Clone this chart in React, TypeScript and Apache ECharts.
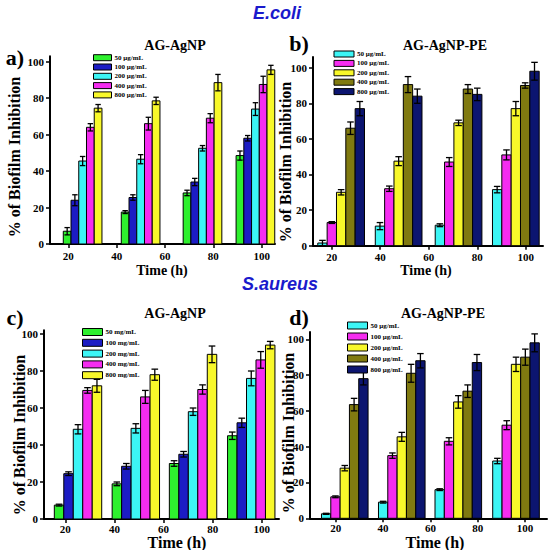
import React, { useEffect, useRef } from "react";
import * as echarts from "echarts";

// ---------- data ----------
const timeTicks = [20, 40, 60, 80, 100];
const pctTicks = [0, 20, 40, 60, 80, 100];

const concUg = ["50 μg/mL", "100 μg/mL", "200 μg/mL", "400 μg/mL", "800 μg/mL"];
const concMg = ["50 mg/mL", "100 mg/mL", "200 mg/mL", "400 mg/mL", "800 mg/mL"];

// x position (h) of each time group, per panel
const groupXA = [25.9, 49.9, 75.5, 97.4];
const groupXB = [23.9, 47.6, 72.3, 95.9];
const groupXC = [25.15, 48.7, 72, 95.7];
const groupXD = [23.8, 47.9, 71.8, 96.2];

// a) E.coli AG-AgNP  (rows: concentration, cols: time group)
const ecoliAgNP = [
  [7, 17.5, 28, 48.5],
  [24, 25.5, 34, 58],
  [45.5, 46.5, 52.5, 74],
  [64, 66, 69, 87.5],
  [74.5, 78.5, 88.5, 95.5],
];
const ecoliAgNPErr = [
  [2, 0.8, 1.5, 2.5],
  [3, 1.5, 2, 1.5],
  [2.5, 2.5, 1.5, 3.5],
  [2, 3.5, 2.5, 4.5],
  [2, 2, 4.5, 2.5],
];

// b) E.coli AG-AgNP-PE
const ecoliPE = [
  [1.5, 11, 11.5, 31.5],
  [13, 32, 47, 51],
  [30, 47.5, 69, 77],
  [66, 90.5, 88, 90],
  [77, 84, 85, 98],
];
const ecoliPEErr = [
  [1.5, 2, 0.8, 1.8],
  [0.5, 1.5, 2.5, 2.8],
  [1.5, 2.5, 1.5, 4],
  [3.5, 4.5, 2.5, 1.5],
  [4, 4, 3.5, 5],
];

// c) S.aureus AG-AgNP
const saureusAgNP = [
  [7.5, 19, 30, 45],
  [24.5, 28.5, 35, 52],
  [48.5, 49, 58, 76],
  [69.5, 66, 70, 86],
  [72, 78, 89, 94],
];
const saureusAgNPErr = [
  [0.5, 1, 1.5, 2],
  [1, 1.5, 1.5, 2.5],
  [2.5, 2.5, 2, 4],
  [1.5, 3.5, 2.5, 4.5],
  [3.5, 3, 4.5, 2],
];

// d) S.aureus AG-AgNP-PE
const saureusPE = [
  [2.5, 9, 16, 32],
  [12, 35, 43, 52],
  [28, 45.5, 65, 86],
  [63.5, 81, 71, 90],
  [78, 88, 87, 98],
];
const saureusPEErr = [
  [0.3, 0.5, 0.5, 1.5],
  [0.5, 1.5, 2, 2.5],
  [1.5, 2.5, 3.5, 4],
  [3.5, 5, 3.5, 4.5],
  [3.5, 4, 4.5, 5],
];

// ---------- styles ----------
const colorsAgNP = ["#2ef02e", "#1c1cc4", "#3cf5f5", "#f52cf0", "#f8f82a"];
const colorsPE = ["#3cf5f5", "#f52cf0", "#f8f82a", "#807a10", "#0c1570"];

const SERIF = '"Liberation Serif", "Times New Roman", serif';

type Panel = {
  key: string;
  letter: string;
  title: string;
  names: string[];
  colors: string[];
  groupX: number[];
  values: number[][];
  errs: number[][];
  barW: number;
  grid: { left: number; top: number; width: number; height: number };
  xRange: [number, number];
  yMax: number;
  legend: { left: number; top: number; w: number; h: number; gap: number };
  letterPos: [number, number];
  titlePos: [number, number];
  yNamePos: [number, number];
  xNamePos: [number, number];
  xNameSize: number;
  xLabelMargin: number;
};

const panels: Panel[] = [
  {
    key: "a",
    letter: "a)",
    title: "AG-AgNP",
    names: concUg,
    colors: colorsAgNP,
    groupX: groupXA,
    values: ecoliAgNP,
    errs: ecoliAgNPErr,
    barW: 3.2,
    grid: { left: 50, top: 56.2, width: 225, height: 187.8 },
    xRange: [12.4, 105.5],
    yMax: 103,
    legend: { left: 93, top: 54.2, w: 18, h: 6, gap: 2.3 },
    letterPos: [15, 57],
    titlePos: [175, 45],
    yNamePos: [14, 157],
    xNamePos: [162, 270],
    xNameSize: 14,
    xLabelMargin: 6,
  },
  {
    key: "b",
    letter: "b)",
    title: "AG-AgNP-PE",
    names: concUg,
    colors: colorsPE,
    groupX: groupXB,
    values: ecoliPE,
    errs: ecoliPEErr,
    barW: 3.85,
    grid: { left: 313, top: 57, width: 230, height: 188.7 },
    xRange: [12.3, 107.1],
    yMax: 106,
    legend: { left: 333.5, top: 50.5, w: 20, h: 6, gap: 2.4 },
    letterPos: [299, 43],
    titlePos: [445, 45],
    yNamePos: [285.5, 162],
    xNamePos: [426, 270.5],
    xNameSize: 14,
    xLabelMargin: 6,
  },
  {
    key: "c",
    letter: "c)",
    title: "AG-AgNP",
    names: concMg,
    colors: colorsAgNP,
    groupX: groupXC,
    values: saureusAgNP,
    errs: saureusAgNPErr,
    barW: 3.86,
    grid: { left: 44, top: 330.3, width: 235, height: 188.7 },
    xRange: [11.3, 107],
    yMax: 102,
    legend: { left: 82, top: 328, w: 20, h: 7, gap: 2.8 },
    letterPos: [15, 317],
    titlePos: [175, 313],
    yNamePos: [19.5, 435],
    xNamePos: [177, 542.5],
    xNameSize: 16,
    xLabelMargin: 4,
  },
  {
    key: "d",
    letter: "d)",
    title: "AG-AgNP-PE",
    names: concUg,
    colors: colorsPE,
    groupX: groupXD,
    values: saureusPE,
    errs: saureusPEErr,
    barW: 3.94,
    grid: { left: 310, top: 332.1, width: 237, height: 186.2 },
    xRange: [9.1, 109.3],
    yMax: 104,
    legend: { left: 347, top: 321.5, w: 20, h: 7, gap: 3 },
    letterPos: [299, 317],
    titlePos: [443, 313],
    yNamePos: [288.5, 433],
    xNamePos: [435, 542.5],
    xNameSize: 16,
    xLabelMargin: 4,
  },
];

function buildOption() {
  const grid: any[] = [];
  const xAxis: any[] = [];
  const yAxis: any[] = [];
  const series: any[] = [];
  const legend: any[] = [];
  const graphic: any[] = [];

  const axisLabelBase = {
    fontFamily: SERIF,
    fontWeight: "bold",
    fontSize: 11,
    color: "#000",
  };

  panels.forEach((p, pi) => {
    grid.push({ ...p.grid, containLabel: false });
    xAxis.push({
      type: "value",
      gridIndex: pi,
      min: p.xRange[0],
      max: p.xRange[1],
      axisLine: { show: true, onZero: false, lineStyle: { color: "#000", width: 2 } },
      axisTick: { show: true, length: 4, lineStyle: { color: "#000", width: 1.5 }, customValues: timeTicks },
      axisLabel: { ...axisLabelBase, margin: p.xLabelMargin, customValues: timeTicks },
      splitLine: { show: false },
    });
    yAxis.push({
      type: "value",
      gridIndex: pi,
      min: 0,
      max: p.yMax,
      axisLine: { show: true, onZero: false, lineStyle: { color: "#000", width: 2 } },
      axisTick: { show: true, length: 4, lineStyle: { color: "#000", width: 1.5 }, customValues: pctTicks },
      axisLabel: { ...axisLabelBase, margin: 6, customValues: pctTicks },
      splitLine: { show: false },
    });

    const n = p.names.length;
    const legendNames: string[] = [];
    p.names.forEach((nm, si) => {
      const sName = p.key + ":" + nm;
      legendNames.push(sName);
      const color = p.colors[si];
      const barW = p.barW;
      const data = p.groupX.map((gx, gi) => [gx, p.values[si][gi], p.errs[si][gi]]);
      series.push({
        type: "custom",
        name: sName,
        xAxisIndex: pi,
        yAxisIndex: pi,
        itemStyle: { color },
        encode: { x: 0, y: 1 },
        data,
        clip: false,
        renderItem: (params: any, api: any) => {
          const gx = api.value(0);
          const v = api.value(1);
          const e = api.value(2);
          const cx = gx + (si - (n - 1) / 2) * barW;
          const p0 = api.coord([cx - barW / 2, 0]);
          const p1 = api.coord([cx + barW / 2, v]);
          const top = api.coord([cx, v + e]);
          const bot = api.coord([cx, v - e]);
          const w = p1[0] - p0[0];
          const capHalf = w * 0.35;
          const mid = (p0[0] + p1[0]) / 2;
          return {
            type: "group",
            children: [
              {
                type: "rect",
                shape: { x: p0[0], y: p1[1], width: w, height: p0[1] - p1[1] },
                style: { fill: color, stroke: "#000", lineWidth: 1 },
              },
              {
                type: "line",
                shape: { x1: mid, y1: top[1], x2: mid, y2: bot[1] },
                style: { stroke: "#000", lineWidth: 1.3 },
              },
              {
                type: "line",
                shape: { x1: mid - capHalf, y1: top[1], x2: mid + capHalf, y2: top[1] },
                style: { stroke: "#000", lineWidth: 1.3 },
              },
              {
                type: "line",
                shape: { x1: mid - capHalf, y1: bot[1], x2: mid + capHalf, y2: bot[1] },
                style: { stroke: "#000", lineWidth: 1.3 },
              },
            ],
          };
        },
      });
    });

    legend.push({
      data: legendNames,
      orient: "vertical",
      left: p.legend.left,
      top: p.legend.top,
      padding: 0,
      itemWidth: p.legend.w,
      itemHeight: p.legend.h,
      itemGap: p.legend.gap,
      icon: "rect",
      selectedMode: false,
      itemStyle: { borderColor: "#000", borderWidth: 1 },
      formatter: (name: string) => name.split(":")[1],
      textStyle: { fontFamily: SERIF, fontWeight: "bold", fontSize: 7, color: "#000", padding: [0, 0, 0, -2] },
    });

    graphic.push(
      {
        type: "text",
        x: p.letterPos[0],
        y: p.letterPos[1],
        style: { text: p.letter, font: `bold 22px ${SERIF}`, fill: "#000", align: "center", verticalAlign: "middle" },
      },
      {
        type: "text",
        x: p.titlePos[0],
        y: p.titlePos[1],
        style: { text: p.title, font: `bold 14px ${SERIF}`, fill: "#000", align: "center", verticalAlign: "middle" },
      },
      {
        type: "text",
        x: p.yNamePos[0],
        y: p.yNamePos[1],
        rotation: Math.PI / 2,
        style: {
          text: "% of Biofilm Inhibition",
          font: `bold 16px ${SERIF}`,
          fill: "#000",
          align: "center",
          verticalAlign: "middle",
        },
      },
      {
        type: "text",
        x: p.xNamePos[0],
        y: p.xNamePos[1],
        style: {
          text: "Time (h)",
          font: `bold ${p.xNameSize}px ${SERIF}`,
          fill: "#000",
          align: "center",
          verticalAlign: "middle",
        },
      }
    );
  });

  graphic.push(
    {
      type: "text",
      x: 277,
      y: 13,
      style: {
        text: "E.coli",
        font: 'italic bold 18px "Liberation Sans", Arial, sans-serif',
        fill: "#1a1acc",
        align: "center",
        verticalAlign: "middle",
      },
    },
    {
      type: "text",
      x: 280,
      y: 284,
      style: {
        text: "S.aureus",
        font: 'italic bold 18px "Liberation Sans", Arial, sans-serif',
        fill: "#1a1acc",
        align: "center",
        verticalAlign: "middle",
      },
    }
  );

  return {
    animation: false,
    backgroundColor: "#fff",
    grid,
    xAxis,
    yAxis,
    legend,
    series,
    graphic,
  };
}

export default function App() {
  const ref = useRef<HTMLDivElement>(null);
  useEffect(() => {
    document.body.style.margin = "0";
    if (!ref.current) return;
    const chart = echarts.init(ref.current, undefined, { renderer: "svg" });
    chart.setOption(buildOption() as any);
    return () => {
      chart.dispose();
    };
  }, []);
  return <div ref={ref} style={{ width: 550, height: 550 }} />;
}
